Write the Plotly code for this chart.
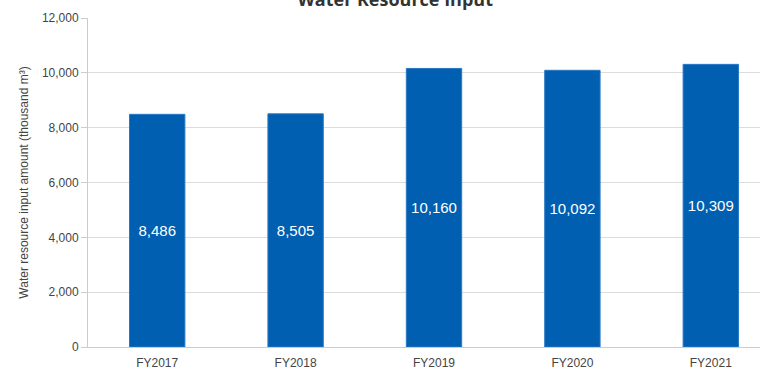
import plotly.graph_objects as go

categories = ["FY2017", "FY2018", "FY2019", "FY2020", "FY2021"]
values = [8486, 8505, 10160, 10092, 10309]
y_ticks = [0, 2000, 4000, 6000, 8000, 10000, 12000]
y_tick_labels = ["0", "2,000", "4,000", "6,000", "8,000", "10,000", "12,000"]
title_text = "Water Resource Input"
y_title = "Water resource input amount (thousand m³)"

fig = go.Figure(go.Bar(
    x=categories, y=values,
    width=0.4,
    marker=dict(color="#005fb0", line=dict(color="#2a78c4", width=1)),
    text=[f"{v:,}" for v in values],
    textposition="inside", insidetextanchor="middle",
    textfont=dict(color="white", size=15, family="Liberation Sans, Arial, sans-serif"),
    hoverinfo="skip",
))

fig.update_layout(
    width=800, height=370,
    margin=dict(l=88, r=20, t=18, b=23),
    plot_bgcolor="white", paper_bgcolor="white",
    showlegend=False,
    font=dict(family="Liberation Sans, Arial, sans-serif", size=12, color="#444"),
    title=dict(text="<b>" + title_text + "</b>", x=0.494, xanchor="center",
               y=1.0, yref="container", yanchor="middle",
               font=dict(family="Open Sans, sans-serif", size=18, color="#333")),
    bargap=0.6,
)
fig.update_xaxes(
    range=[-0.5, 4.5], showline=True, linecolor="#cccccc", linewidth=1,
    ticks="", showgrid=False, tickfont=dict(size=12, color="#444"),
    ticklabelstandoff=5,
    automargin=False,
)
fig.update_yaxes(
    range=[0, 12000], tickvals=y_ticks, ticktext=y_tick_labels,
    showgrid=True, gridcolor="#dcdcdc", gridwidth=1,
    showline=True, linecolor="#cccccc", linewidth=1,
    ticks="outside", ticklen=6, tickcolor="#cccccc",
    tickfont=dict(size=12, color="#444"),
    title=dict(text=y_title, font=dict(size=12, color="#444"), standoff=10),
    zeroline=False, automargin=False,
)
fig.write_html("out.html")
